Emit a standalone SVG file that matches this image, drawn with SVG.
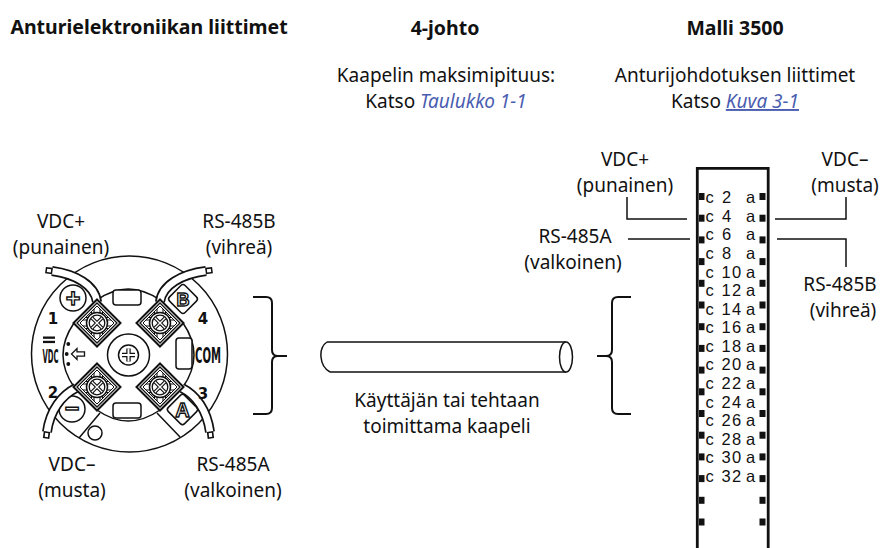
<svg xmlns="http://www.w3.org/2000/svg" xmlns:xlink="http://www.w3.org/1999/xlink" width="888" height="548" viewBox="0 0 888 548">
<style>
.t{font-family:"Noto Sans","Open Sans",sans-serif;font-size:19px;fill:#111;text-anchor:middle}
.h{font-family:"Noto Sans","Open Sans",sans-serif;font-size:19.5px;font-weight:bold;fill:#111;text-anchor:middle}
.lnk{fill:#4a5db0;font-style:italic}
.pin{font-family:"Liberation Sans",Arial,sans-serif;font-size:16.5px;fill:#111}
.num{letter-spacing:1.2px}
.ln{fill:none;stroke:#111;stroke-width:1.5}
.br{fill:none;stroke:#111;stroke-width:2}
.o{fill:#fff;stroke:#111;stroke-width:1.5}
.lbl{font-family:"DejaVu Sans",sans-serif;font-weight:bold;fill:#111;text-anchor:middle}
.hol{font-family:"Liberation Sans",Arial,sans-serif;font-weight:bold;fill:#fff;stroke:#111;stroke-width:1.4;text-anchor:middle}
.wb{fill:none;stroke:#111;stroke-width:10}
.ww{fill:none;stroke:#fff;stroke-width:6.6}
.eb{fill:none;stroke:#111;stroke-width:6.5}
.ew{fill:none;stroke:#fff;stroke-width:3.2}
</style>
<defs>
<g id="term">
<path d="M0,-23.5 L23.5,0 L0,23.5 L-23.5,0 Z" fill="#fff" stroke="#111" stroke-width="2"/>
<path d="M0,-20 L20,0 L0,20 L-20,0 Z" fill="none" stroke="#111" stroke-width="1.3"/>
<path d="M0,-17 L17,0 L0,17 L-17,0 Z" fill="none" stroke="#111" stroke-width="1"/>
<path d="M-5.5,-11.5 V11.5 M-3,-14 V14 M3,-14 V14 M5.5,-11.5 V11.5 M-11.5,-5.5 H11.5 M-14,-3 H14 M-14,3 H14 M-11.5,5.5 H11.5" fill="none" stroke="#111" stroke-width="1.1"/>
<circle r="10.5" fill="#fff" stroke="#111" stroke-width="1.5"/>
<circle r="7.8" fill="#fff" stroke="#111" stroke-width="1.3"/>
<path d="M-5,-5 L5,5 M5,-5 L-5,5" stroke="#111" stroke-width="3.6"/>
<path d="M-5,-5 L5,5 M5,-5 L-5,5" stroke="#fff" stroke-width="1.3"/>
</g>
</defs>
<rect width="888" height="548" fill="#fff"/>

<g id="headers">
<text class="h" x="149" y="34">Anturielektroniikan liittimet</text>
<text class="h" x="445" y="35">4-johto</text>
<text class="h" x="735" y="35">Malli 3500</text>
<text class="t" x="446" y="82">Kaapelin maksimipituus:</text>
<text class="t" x="446" y="108">Katso <tspan class="lnk">Taulukko 1-1</tspan></text>
<text class="t" x="735" y="82">Anturijohdotuksen liittimet</text>
<text class="t" x="735" y="108">Katso <tspan class="lnk" text-decoration="underline">Kuva 3-1</tspan></text>
</g>

<g id="sensor-terminal">
<circle cx="129.5" cy="354" r="98" class="o"/>
<path class="o" d="M97,300 Q128,278 160,300 L160,323 L183,323 Q205,355 183,387 L160,387 L160,410 Q128,432 97,410 L97,387 L74,387 Q52,355 74,323 L97,323 Z"/>
<rect x="113" y="290" width="28" height="15" rx="3" class="o"/>
<rect x="113" y="403" width="28" height="15" rx="3" class="o"/>
<rect x="176" y="338" width="16" height="31" rx="3" class="o"/>
<circle cx="128.5" cy="355" r="21" class="o"/>
<circle cx="128.5" cy="355" r="10" class="o"/>
<path d="M122,355 H135 M128.5,348.5 V361.5" stroke="#111" stroke-width="4.4"/>
<path d="M122,355 H135 M128.5,348.5 V361.5" stroke="#fff" stroke-width="2"/>
<path d="M100,413 L79,438 M157,413 L180,437" class="ln" stroke-width="1.4"/>
<circle cx="95" cy="433" r="7" class="o"/>
<circle cx="73" cy="298" r="13" class="o"/>
<circle cx="72" cy="409" r="13" class="o"/>
<text class="hol" x="73" y="306.5" style="font-size:25px">+</text>
<text class="hol" x="72" y="417" style="font-size:25px">−</text>
<rect x="172" y="288" width="22" height="22" rx="3" class="o" transform="rotate(45 183 299)"/>
<rect x="171" y="398" width="23" height="23" rx="3" class="o" transform="rotate(45 182.5 409.5)"/>
<text class="hol" x="183" y="306" style="font-size:18px">B</text>
<text class="hol" x="182.5" y="417" style="font-size:20px">A</text>
<path class="wb" d="M97,302 C95,285 75,274 52,271"/>
<path class="ww" d="M97,302 C95,285 75,274 52,271"/>
<path class="wb" d="M160,302 C162,285 182,274 206,271"/>
<path class="ww" d="M160,302 C162,285 182,274 206,271"/>
<path class="wb" d="M76,388 C62,395 50,410 47,432"/>
<path class="ww" d="M76,388 C62,395 50,410 47,432"/>
<path class="wb" d="M182,388 C196,395 207,410 210,432"/>
<path class="ww" d="M182,388 C196,395 207,410 210,432"/>
<path class="eb" d="M52.5,271 L45.5,270.1 M205.5,271 L212.5,270.1 M47,431.5 L46.1,438.5 M210,431.5 L210.9,438.5"/>
<path class="ew" d="M51,270.8 L47,270.3 M207,270.8 L211,270.3 M46.8,433 L46.3,437 M210.2,433 L210.7,437"/>
<use xlink:href="#term" href="#term" x="97" y="323"/>
<use xlink:href="#term" href="#term" x="160" y="323"/>
<use xlink:href="#term" href="#term" x="97" y="387"/>
<use xlink:href="#term" href="#term" x="160" y="387"/>
<text class="lbl" x="53" y="324" style="font-size:15px">1</text>
<text class="lbl" x="203" y="324" style="font-size:15px">4</text>
<text class="lbl" x="53" y="398" style="font-size:15px">2</text>
<text class="lbl" x="203" y="399" style="font-size:15px">3</text>
<rect x="43" y="336.5" width="12" height="2.3" fill="#111"/>
<rect x="43" y="340.8" width="12" height="2.3" fill="#111"/>
<text class="lbl" x="50.5" y="362.5" textLength="16" lengthAdjust="spacingAndGlyphs" style="font-size:20px">VDC</text>
<text class="lbl" x="208" y="362.5" textLength="26" lengthAdjust="spacingAndGlyphs" style="font-size:21px">COM</text>
<circle cx="68.3" cy="344" r="1.9" fill="#111"/>
<circle cx="66.7" cy="354" r="1.9" fill="#111"/>
<circle cx="68.3" cy="364" r="1.9" fill="#111"/>
<path d="M71.5,354 L77,348.5 L77,351.8 L84.5,351.8 L84.5,356.2 L77,356.2 L77,359.5 Z" fill="#fff" stroke="#111" stroke-width="1.3"/>
</g>

<g id="sensor-labels">
<text class="t" x="61" y="227.5">VDC+</text>
<text class="t" x="61" y="253.5">(punainen)</text>
<text class="t" x="239" y="227.5">RS-485B</text>
<text class="t" x="239" y="253.5">(vihreä)</text>
<text class="t" x="72" y="470.5">VDC–</text>
<text class="t" x="72" y="496.5">(musta)</text>
<text class="t" x="233" y="470.5">RS-485A</text>
<text class="t" x="233" y="496.5">(valkoinen)</text>
</g>

<g id="cable">
<path class="ln" d="M327,342 H566 M330,372 H566 M327,342 C318,348 319,366 330,372"/>
<ellipse cx="566" cy="357" rx="6.5" ry="15" fill="#fff" stroke="#111" stroke-width="1.5"/>
<text class="t" x="447" y="406.5">Käyttäjän tai tehtaan</text>
<text class="t" x="447" y="432.5">toimittama kaapeli</text>
</g>

<g id="connector">
<path d="M697.3,549 V168.3 H768.2 V549" fill="none" stroke="#111" stroke-width="2.8"/>
<g fill="#111">
<rect x="699" y="193" width="5.5" height="7"/><rect x="759.5" y="193" width="6" height="7"/>
<rect x="699" y="214.7" width="5.5" height="7"/><rect x="759.5" y="214.7" width="6" height="7"/>
<rect x="699" y="236.4" width="5.5" height="7"/><rect x="759.5" y="236.4" width="6" height="7"/>
<rect x="699" y="258.1" width="5.5" height="7"/><rect x="759.5" y="258.1" width="6" height="7"/>
<rect x="699" y="279.8" width="5.5" height="7"/><rect x="759.5" y="279.8" width="6" height="7"/>
<rect x="699" y="301.5" width="5.5" height="7"/><rect x="759.5" y="301.5" width="6" height="7"/>
<rect x="699" y="323.2" width="5.5" height="7"/><rect x="759.5" y="323.2" width="6" height="7"/>
<rect x="699" y="344.9" width="5.5" height="7"/><rect x="759.5" y="344.9" width="6" height="7"/>
<rect x="699" y="366.6" width="5.5" height="7"/><rect x="759.5" y="366.6" width="6" height="7"/>
<rect x="699" y="388.3" width="5.5" height="7"/><rect x="759.5" y="388.3" width="6" height="7"/>
<rect x="699" y="410" width="5.5" height="7"/><rect x="759.5" y="410" width="6" height="7"/>
<rect x="699" y="431.7" width="5.5" height="7"/><rect x="759.5" y="431.7" width="6" height="7"/>
<rect x="699" y="453.4" width="5.5" height="7"/><rect x="759.5" y="453.4" width="6" height="7"/>
<rect x="699" y="475.1" width="5.5" height="7"/><rect x="759.5" y="475.1" width="6" height="7"/>
<rect x="699" y="496.8" width="5.5" height="7"/><rect x="759.5" y="496.8" width="6" height="7"/>
<rect x="699" y="518.5" width="5.5" height="7"/><rect x="759.5" y="518.5" width="6" height="7"/>
</g>
<text class="pin" y="203.3"><tspan x="705.5">c</tspan><tspan x="722">2</tspan><tspan x="746">a</tspan></text>
<text class="pin" y="221.9"><tspan x="705.5">c</tspan><tspan x="722">4</tspan><tspan x="746">a</tspan></text>
<text class="pin" y="240.4"><tspan x="705.5">c</tspan><tspan x="722">6</tspan><tspan x="746">a</tspan></text>
<text class="pin" y="259"><tspan x="705.5">c</tspan><tspan x="722">8</tspan><tspan x="746">a</tspan></text>
<text class="pin" y="277.5"><tspan x="705.5">c</tspan><tspan x="721.5" class="num">10</tspan><tspan x="746">a</tspan></text>
<text class="pin" y="296.1"><tspan x="705.5">c</tspan><tspan x="721.5" class="num">12</tspan><tspan x="746">a</tspan></text>
<text class="pin" y="314.7"><tspan x="705.5">c</tspan><tspan x="721.5" class="num">14</tspan><tspan x="746">a</tspan></text>
<text class="pin" y="333.2"><tspan x="705.5">c</tspan><tspan x="721.5" class="num">16</tspan><tspan x="746">a</tspan></text>
<text class="pin" y="351.8"><tspan x="705.5">c</tspan><tspan x="721.5" class="num">18</tspan><tspan x="746">a</tspan></text>
<text class="pin" y="370.3"><tspan x="705.5">c</tspan><tspan x="721.5" class="num">20</tspan><tspan x="746">a</tspan></text>
<text class="pin" y="388.9"><tspan x="705.5">c</tspan><tspan x="721.5" class="num">22</tspan><tspan x="746">a</tspan></text>
<text class="pin" y="407.5"><tspan x="705.5">c</tspan><tspan x="721.5" class="num">24</tspan><tspan x="746">a</tspan></text>
<text class="pin" y="426"><tspan x="705.5">c</tspan><tspan x="721.5" class="num">26</tspan><tspan x="746">a</tspan></text>
<text class="pin" y="444.6"><tspan x="705.5">c</tspan><tspan x="721.5" class="num">28</tspan><tspan x="746">a</tspan></text>
<text class="pin" y="463.1"><tspan x="705.5">c</tspan><tspan x="721.5" class="num">30</tspan><tspan x="746">a</tspan></text>
<text class="pin" y="481.7"><tspan x="705.5">c</tspan><tspan x="721.5" class="num">32</tspan><tspan x="746">a</tspan></text>
</g>

<g id="connector-labels">
<text class="t" x="625" y="166">VDC+</text>
<text class="t" x="625" y="192">(punainen)</text>
<text class="t" x="845" y="166">VDC–</text>
<text class="t" x="845" y="192">(musta)</text>
<text class="t" x="575" y="242.5">RS-485A</text>
<text class="t" x="573" y="268.5">(valkoinen)</text>
<text class="t" x="840" y="291">RS-485B</text>
<text class="t" x="843" y="317">(vihreä)</text>
</g>

<g id="connectors">
<path class="br" d="M253,297 H266 Q272,297 272,303 V350 Q272,356 278,356 H287 M278,356 Q272,356 272,362 V408 Q272,414 266,414 H253"/>
<path class="br" d="M631,297 H618 Q612,297 612,303 V350 Q612,356 606,356 H597 M606,356 Q612,356 612,362 V408 Q612,414 618,414 H631"/>
<path class="ln" d="M627,197 V219 H687"/>
<path class="ln" d="M628,239 H690"/>
<path class="ln" d="M775,219 H846 V197"/>
<path class="ln" d="M777,239 H846 V267"/>
</g>
</svg>
